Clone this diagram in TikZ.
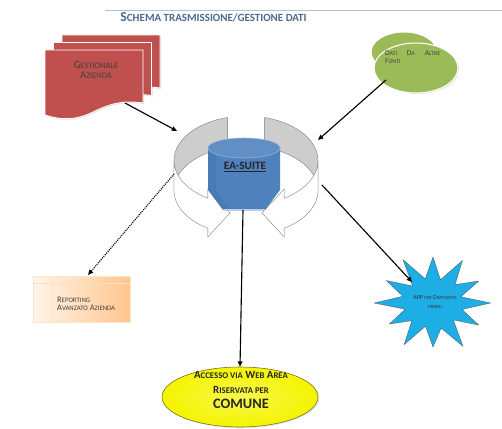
\documentclass[tikz,border=0pt]{standalone}
\usepackage{fontspec}
\setmainfont{Carlito}
\usetikzlibrary{shapes.geometric,shadows,arrows.meta}
\definecolor{titleblue}{HTML}{4A6A8E}
\definecolor{docred}{HTML}{C0504D}
\definecolor{leafgreen}{HTML}{9BBB59}
\definecolor{suiteblue}{HTML}{4F81BD}
\definecolor{ringgray}{HTML}{CDCDCD}
\definecolor{burstblue}{HTML}{1EAEE6}
\definecolor{webyellow}{HTML}{F4F400}
\definecolor{rimolive}{HTML}{6E6E1E}
% small capitals drawn from capitals
\newcommand{\lo}[1]{\scalebox{0.8}{#1}}
\tikzset{
  page/.style={fill=docred, draw=white, line width=1.2pt,
    drop shadow={opacity=0.25, shadow xshift=1.5pt, shadow yshift=-1.5pt}},
  leaf/.style={ellipse, fill=leafgreen, draw=white, line width=1.5pt,
    drop shadow={opacity=0.25, shadow xshift=1.5pt, shadow yshift=-1.5pt}},
  ringline/.style={draw=black!55, line width=0.5pt},
  feed/.style={black, line width=1.6pt, -{Triangle[length=7.5pt,width=6.5pt]}},
  smalltext/.style={text=black!75, inner sep=0pt}
}
\begin{document}
\begin{tikzpicture}[x=0.05cm,y=-0.05cm]
\useasboundingbox (0,0) rectangle (502,429);
\draw[titleblue!40, line width=0.6pt] (105,10) -- (502,10);
\path (213.5,17) node[text=titleblue, font=\fontsize{19.5}{21}\selectfont\bfseries] (title)
  {S\lo{CHEMA TRASMISSIONE/GESTIONE DATI}};

% pile of documents
\foreach \dx/\dy in {17/-15, 8.5/-7.5, 0/0}
  \draw[page, shift={(\dx,\dy)}] (45,50) -- (143,50) -- (143,103)
    .. controls (122,100) and (110,104) .. (95,111)
    .. controls (76,121) and (60,120) .. (45,115) -- cycle;
\path (96,70) node[smalltext, align=center, font=\fontsize{15}{14.5}\selectfont] (gest)
  {G\lo{ESTIONALE}\\A\lo{ZIENDA}};

% other sources
\node[leaf, minimum width=3.3cm, minimum height=2cm] (srcback) at (404,52) {};
\node[leaf, minimum width=4.2cm, minimum height=2.5cm] (src) at (416,68) {};
\path (385,51) node[smalltext, anchor=north west, text width=2.75cm, font=\fontsize{10.5}{11.5}\selectfont] (srctext)
  {D\lo{ATI}\hfill D\lo{A}\hfill A\lo{LTRE}\\F\lo{ONTI}};

% circular arrows
\draw[ringline, fill=ringgray] plot[domain=105:180, samples=30] ({246+72*cos(\x)},{160.5-44.5*sin(\x)})
  -- plot[domain=180:105, samples=30] ({246+72*cos(\x)},{190.5-44.5*sin(\x)}) -- cycle;
\draw[ringline, fill=ringgray] plot[domain=75:0, samples=30] ({246+72*cos(\x)},{160.5-44.5*sin(\x)})
  -- plot[domain=0:75, samples=30] ({246+72*cos(\x)},{190.5-44.5*sin(\x)}) -- cycle;
\draw[ringline, fill=white] plot[domain=180:238, samples=30] ({246+72*cos(\x)},{160.5-44.5*sin(\x)})
  -- (207.8,189) -- (230,213) -- (207.8,237)
  -- plot[domain=238:180, samples=30] ({246+72*cos(\x)},{190.5-44.5*sin(\x)}) -- cycle;
\draw[ringline, fill=white] plot[domain=0:-58, samples=30] ({246+72*cos(\x)},{160.5-44.5*sin(\x)})
  -- (284.2,189) -- (262,213) -- (284.2,237)
  -- plot[domain=-58:0, samples=30] ({246+72*cos(\x)},{190.5-44.5*sin(\x)}) -- cycle;

% EA-Suite store
\fill[suiteblue] (208,148) -- (208,190) -- (223,210) -- (265,210) -- (280,190) -- (280,148) -- cycle;
\fill[suiteblue!80!black, opacity=0.25] (208,148) -- (208,190) -- (223,210) -- (230,210) -- (216,190) -- (216,150) -- cycle;
\draw[white!60!suiteblue, line width=1.5pt] (223,210) -- (265,210);
\filldraw[fill=suiteblue!90!white, draw=suiteblue!60!white, line width=0.8pt] (244,148) ellipse [x radius=1.8cm, y radius=0.5cm];
\path (245,167) node[text=black!85, font=\fontsize{16}{18}\selectfont\bfseries] (suite) {\underline{EA-SUITE}};

% reporting box
\shade[left color=orange!8!white, right color=orange!45!white] (33,276) rectangle (130,322);
\draw[orange!25!white, line width=0.6pt] (33,283) -- (130,283) (52,276) -- (52,322);
\node[minimum width=4.85cm, minimum height=2.3cm, draw=orange!20!white, line width=0.6pt] (rep) at (81.5,299) {};
\path (57,304) node[smalltext, anchor=west, align=left, font=\fontsize{12}{11.5}\selectfont] (reptext)
  {R\lo{EPORTING}\\A\lo{VANZATO} A\lo{ZIENDA}};

% mobile app burst
\begin{scope}[shift={(433,303)}, xscale=1.2]
\draw[fill=burstblue, draw=black!70, line width=0.4pt] (0:48)
  \foreach \a/\r in {15/25, 30/44, 45/24, 60/50, 75/26, 90/44, 105/24, 120/48, 135/25, 150/42, 165/24,
    180/49, 195/26, 210/45, 225/24, 240/50, 255/25, 270/46, 285/24, 300/49, 315/26, 330/44, 345/24}
  { -- (\a:\r) } -- cycle;
\end{scope}
\path (435,302) node[smalltext, align=center, text=black!80, font=\fontsize{8.5}{12.5}\selectfont] (burst)
  {APP \lo{PER} D\lo{ISPOSITIVI}\\\lo{MOBILI}};

% web area
\node[ellipse, minimum width=7.8cm, minimum height=3cm, inner color=webyellow!70!white, outer color=webyellow,
  draw=rimolive, line width=0.8pt, drop shadow={opacity=0.2, shadow xshift=1.5pt, shadow yshift=-1.5pt}] (web) at (240,397) {};
\path (241,390) node[text=black!85, align=center, inner sep=0pt, font=\fontsize{15.5}{21}\selectfont\bfseries] (webtext)
  {A\lo{CCESSO VIA} W\lo{EB} A\lo{REA}\\R\lo{ISERVATA PER}\\{\fontsize{20.5}{21}\selectfont COMUNE}};

% connectors
\coordinate (docout) at (125,103);
\coordinate (ringnw) at (177,131);
\coordinate (srcout) at (386,80);
\coordinate (ringne) at (318,140);
\coordinate (ringw) at (174,174);
\coordinate (repin) at (88,275);
\coordinate (ringe) at (322,185);
\coordinate (burstin) at (412,282);
\coordinate (suitebase) at (243,210);
\draw[feed] (docout) -- (ringnw);
\draw[feed] (srcout) -- (ringne);
\draw[feed] (ringe) -- (burstin);
\draw[feed] (suitebase) -- (web.north);
\draw[feed, dash pattern=on 1.5pt off 1.5pt] (ringw) -- (repin);
\end{tikzpicture}
\end{document}
